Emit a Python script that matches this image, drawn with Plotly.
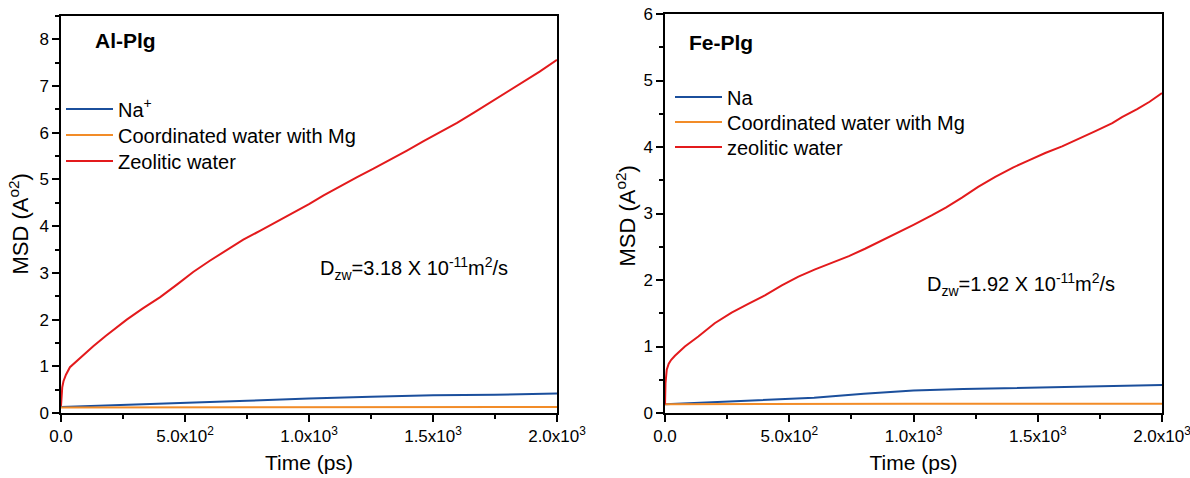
import plotly.graph_objects as go

# ---------------- data ----------------
# Al-Plg panel
al_red_t = [0, 2, 5, 10, 20, 36, 60, 90, 130, 180, 265, 330, 400, 470, 533, 600, 668, 735, 802,
            870, 950, 1000, 1059, 1130, 1194, 1260, 1328, 1395, 1462, 1530, 1597, 1665, 1731,
            1800, 1866, 1930, 2000]
al_red_v = [0.15, 0.4, 0.55, 0.68, 0.82, 0.98, 1.1, 1.25, 1.43, 1.65, 2.0, 2.24, 2.48, 2.76, 3.02,
            3.26, 3.49, 3.71, 3.9, 4.1, 4.32, 4.47, 4.66, 4.87, 5.05, 5.23, 5.42, 5.62, 5.82, 6.01,
            6.21, 6.43, 6.65, 6.87, 7.09, 7.31, 7.56]
al_blue_t = [0, 250, 500, 750, 1000, 1100, 1250, 1500, 1750, 2000]
al_blue_v = [0.13, 0.17, 0.21, 0.26, 0.31, 0.33, 0.35, 0.38, 0.39, 0.42]
al_orange_t = [0, 500, 1000, 1500, 2000]
al_orange_v = [0.12, 0.12, 0.13, 0.13, 0.13]

# Fe-Plg panel
fe_red_t = [0, 2, 7, 15, 25, 40, 80, 134, 200, 268, 335, 402, 470, 537, 604, 671, 740, 805, 870,
            939, 1000, 1073, 1130, 1195, 1260, 1329, 1400, 1464, 1530, 1598, 1665, 1732, 1800,
            1839, 1900, 1950, 2000]
fe_red_v = [0.13, 0.45, 0.65, 0.74, 0.8, 0.86, 1.0, 1.15, 1.35, 1.51, 1.64, 1.77, 1.92, 2.05,
            2.16, 2.26, 2.36, 2.47, 2.59, 2.71, 2.83, 2.97, 3.09, 3.24, 3.4, 3.55, 3.69, 3.8,
            3.91, 4.01, 4.12, 4.24, 4.36, 4.45, 4.57, 4.68, 4.81]
fe_blue_t = [0, 200, 400, 600, 800, 900, 1000, 1200, 1500, 1800, 2000]
fe_blue_v = [0.13, 0.16, 0.19, 0.23, 0.29, 0.32, 0.34, 0.36, 0.38, 0.40, 0.42]
fe_orange_t = [0, 500, 1000, 1500, 2000]
fe_orange_v = [0.13, 0.14, 0.14, 0.14, 0.14]

x_tickvals = [0, 500, 1000, 1500, 2000]
x_ticktext = ["0.0", "5.0x10<sup>2</sup>", "1.0x10<sup>3</sup>", "1.5x10<sup>3</sup>", "2.0x10<sup>3</sup>"]
x_minor = [250, 750, 1250, 1750]

left_names = ["Na<sup>+</sup>", "Coordinated water with Mg", "Zeolitic water"]
right_names = ["Na", "Coordinated water with Mg", "zeolitic water"]

BLUE = "#1B4F9C"
ORANGE = "#F28C28"
RED = "#E31A1C"
FONT = "Liberation Sans, Arial, sans-serif"

W, H = 1190, 478
ml, mr, mt, mb = 61, 28, 14, 65
pw = W - ml - mr
ph = H - mt - mb


def px_x(p):
    return (p - ml) / pw


def px_y(p):
    return (H - mb - p) / ph


fig = go.Figure()

panels = [
    ("x", "y", left_names, [(al_blue_t, al_blue_v), (al_orange_t, al_orange_v), (al_red_t, al_red_v)],
     61, [109, 135, 161], 1),
    ("x2", "y2", right_names, [(fe_blue_t, fe_blue_v), (fe_orange_t, fe_orange_v), (fe_red_t, fe_red_v)],
     670, [97, 122, 147], 4),
]
colors = [BLUE, ORANGE, RED]
legend_layout = {}
for xa, ya, names, series, lx, lys, lstart in panels:
    for i, ((t, v), name, col, ly) in enumerate(zip(series, names, colors, lys)):
        lid = "legend" if lstart + i == 1 else f"legend{lstart + i}"
        fig.add_trace(go.Scatter(x=t, y=v, mode="lines", name=name,
                                 line=dict(color=col, width=2), xaxis=xa, yaxis=ya, legend=lid))
        legend_layout[lid] = dict(xref="paper", yref="paper", x=px_x(lx), y=px_y(ly),
                                  xanchor="left", yanchor="middle", bgcolor="rgba(0,0,0,0)",
                                  itemwidth=47, borderwidth=0,
                                  font=dict(size=20, color="black", family=FONT))


def xax(domain, anchor):
    return dict(domain=domain, anchor=anchor, range=[0, 2000], tickvals=x_tickvals, ticktext=x_ticktext,
                tickangle=0, automargin=False, ticklabeloverflow="allow",
                ticks="outside", ticklen=7, tickwidth=1.5, tickcolor="black",
                minor=dict(tickvals=x_minor, ticks="outside", ticklen=4, tickwidth=1.5, tickcolor="black"),
                showline=True, linecolor="black", linewidth=1.5, mirror=True,
                showgrid=False, zeroline=False,
                tickfont=dict(size=17, color="black", family=FONT),
                title=dict(text="Time (ps)", font=dict(size=21, color="black", family=FONT), standoff=10))


def yax(domain, top, anchor):
    return dict(domain=domain, range=[0, top], dtick=1, anchor=anchor, automargin=False,
                ticklabeloverflow="allow",
                ticks="outside", ticklen=7, tickwidth=1.5, tickcolor="black",
                minor=dict(dtick=0.5, ticks="outside", ticklen=4, tickwidth=1.5, tickcolor="black"),
                showline=True, linecolor="black", linewidth=1.5, mirror=True,
                showgrid=False, zeroline=False,
                tickfont=dict(size=17, color="black", family=FONT))


fig.update_layout(
    width=W, height=H,
    margin=dict(l=ml, r=mr, t=mt, b=mb, autoexpand=False),
    paper_bgcolor="white", plot_bgcolor="white",
    font=dict(family=FONT, color="black"),
    xaxis=xax([0, px_x(557)], "y"),
    xaxis2=xax([px_x(665), 1], "y2"),
    yaxis=yax([0, px_y(16)], 8.5, "x"),
    yaxis2=yax([0, 1], 6, "x2"),
    showlegend=True,
    **legend_layout,
)

ytitle = "MSD (A<sup>o2</sup>)"
fig.add_annotation(text=ytitle, xref="paper", yref="paper", textangle=-90,
                   x=px_x(18), y=px_y(172), xanchor="center", yanchor="top",
                   showarrow=False, font=dict(size=22, color="black", family=FONT))
fig.add_annotation(text=ytitle, xref="paper", yref="paper", textangle=-90,
                   x=px_x(625), y=px_y(164), xanchor="center", yanchor="top",
                   showarrow=False, font=dict(size=22, color="black", family=FONT))

fig.add_annotation(text="<b>Al-Plg</b>", xref="paper", yref="paper",
                   x=px_x(93), y=px_y(40), xanchor="left", yanchor="middle",
                   showarrow=False, font=dict(size=21, color="black", family=FONT))
fig.add_annotation(text="<b>Fe-Plg</b>", xref="paper", yref="paper",
                   x=px_x(687), y=px_y(42), xanchor="left", yanchor="middle",
                   showarrow=False, font=dict(size=21, color="black", family=FONT))
fig.add_annotation(text="D<sub>zw</sub>=3.18 X 10<sup>-11</sup>m<sup>2</sup>/s", xref="paper", yref="paper",
                   x=px_x(318), y=px_y(268), xanchor="left", yanchor="middle",
                   showarrow=False, font=dict(size=20, color="black", family=FONT))
fig.add_annotation(text="D<sub>zw</sub>=1.92 X 10<sup>-11</sup>m<sup>2</sup>/s", xref="paper", yref="paper",
                   x=px_x(925), y=px_y(284), xanchor="left", yanchor="middle",
                   showarrow=False, font=dict(size=20, color="black", family=FONT))

fig.write_html("out.html")
